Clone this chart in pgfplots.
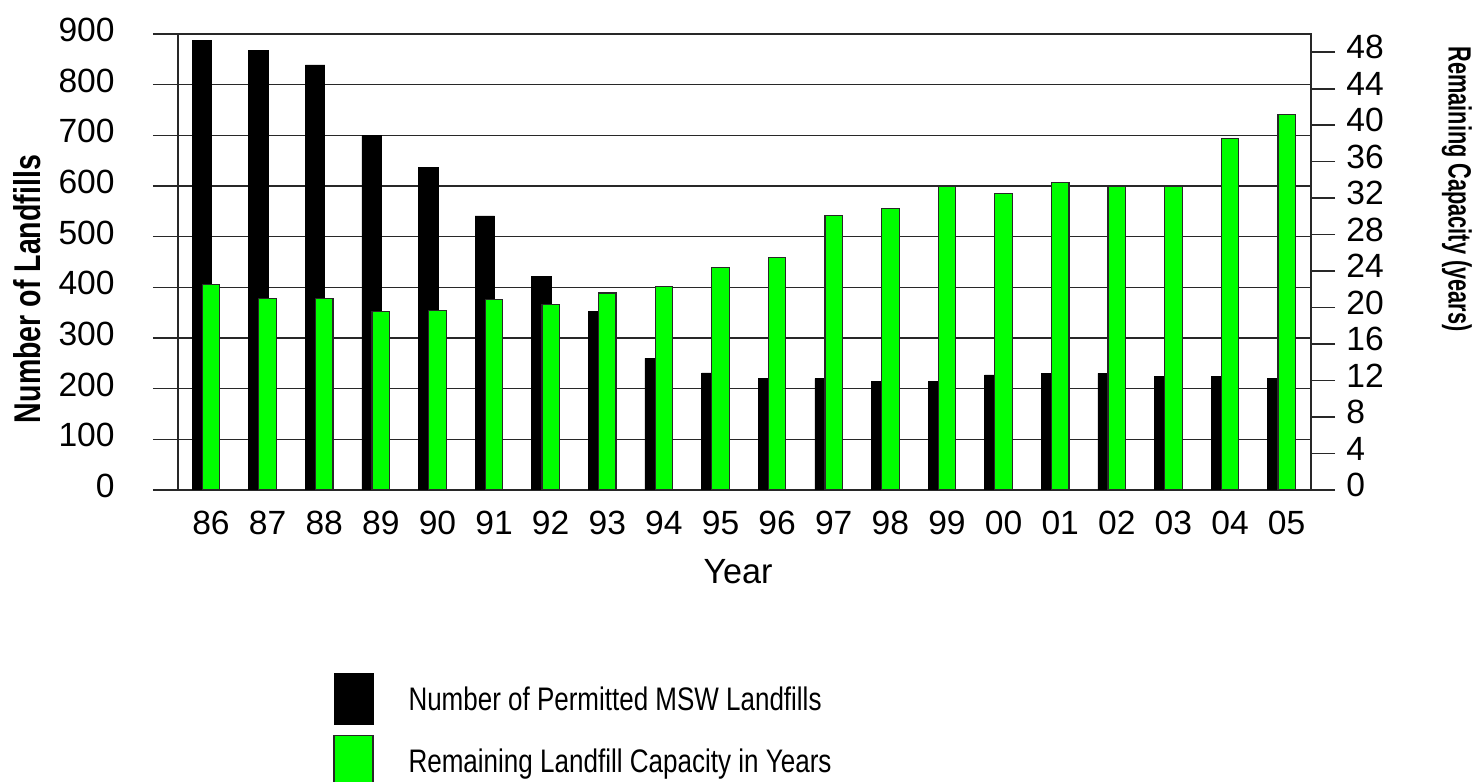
\documentclass[border=0pt]{standalone}
\usepackage{pgfplots}
\pgfplotsset{compat=1.18}
\usepackage{fontspec}
\setmainfont{Liberation Sans}
\setsansfont{Liberation Sans}
\usepackage{graphicx}
\definecolor{bargreen}{RGB}{0,255,0}
\definecolor{gridc}{RGB}{40,40,40}
\pgfplotstableread{
x black green
0 888 22.5
1 868 21.0
2 839 21.0
3 700 19.6
4 637 19.7
5 541 20.85
6 422 20.3
7 353 21.6
8 260 22.3
9 231 24.4
10 220 25.45
11 220 30.1
12 214 30.9
13 214 33.3
14 227 32.5
15 230 33.7
16 230 33.3
17 224 33.3
18 224 38.5
19 220 41.2
}\landfills
\begin{document}
\begin{tikzpicture}
\useasboundingbox (0,0) rectangle (737pt,391pt);
\pgfplotsset{
  common/.style={
    at={(89pt,146pt)}, anchor=south west,
    scale only axis, width=566.5pt, height=228pt,
    xmin=-0.583, xmax=19.43,
    /pgf/number format/assume math mode=true,
    tick align=outside,
    ticklabel style={font=\fontsize{16.8}{18}\selectfont},
  }
}
\begin{axis}[
  common,
  ymin=0, ymax=900,
  ytick={0,100,...,900},
  xtick={0,...,19},
  xticklabels={86,87,88,89,90,91,92,93,94,95,96,97,98,99,00,01,02,03,04,05},
  ymajorgrids,
  major grid style={gridc, line width=0.8pt},
  axis line style={gridc, line width=0.8pt},
  ytick pos=left,
  xtick pos=bottom,
  major tick length=12.5pt,
  ytick style={gridc, line width=0.8pt},
  xtick style={draw=none},
  yticklabel style={inner sep=0pt, anchor=east, xshift=-19pt, yshift=2pt},
  xticklabel style={inner sep=0pt, anchor=north, yshift=2.2pt},
  xlabel={\fontsize{17.5}{18}\selectfont\resizebox{34.5pt}{\height}{Year}},
  every axis x label/.style={at={(axis description cs:0.4943,-0.1798)}, anchor=center},
  ylabel={\resizebox{134pt}{13.5pt}{\bfseries Number of Landfills}},
  every axis y label/.style={at={(axis description cs:-0.1328,0.4408)}, anchor=center, rotate=90},
]
\addplot[ybar, fill=black, draw=black, line width=0.3pt, bar width=9.75pt, bar shift=-4.6pt] table[x=x, y=black] {\landfills};
\end{axis}
\begin{axis}[
  common,
  ymin=0, ymax=50,
  ytick={0,4,...,48},
  axis x line=none,
  axis y line*=right,
  axis line style={gridc, line width=0.8pt},
  major tick length=12pt,
  ytick style={gridc, line width=0.8pt},
  yticklabel style={inner sep=0pt, anchor=west, xshift=5.5pt, yshift=2.5pt},
  ylabel={\resizebox{142.5pt}{11.65pt}{\bfseries Remaining Capacity (years)}},
  every axis y label/.style={at={(axis description cs:1.1288,0.660)}, anchor=center, rotate=-90},
  legend style={at={(axis description cs:0.1371,-0.4007)}, anchor=north west,
    draw=none, fill=none, inner sep=0pt, outer sep=0pt, row sep=5pt, column sep=17.5pt,
    nodes={inner sep=0pt, text depth=0pt}, font=\fontsize{16.3}{18}\selectfont},
  legend cell align=left,
]
\addlegendimage{legend image code/.code={\fill[black] (0pt,-12.75pt) rectangle (19.5pt,12.75pt);}}
\addlegendentry{\resizebox{206.5pt}{\height}{Number of Permitted MSW Landfills}}
\addlegendimage{legend image code/.code={\filldraw[fill=bargreen, draw=gridc, line width=0.6pt] (0pt,-12.75pt) rectangle (19.5pt,12.75pt);}}
\addlegendentry{\resizebox{211.5pt}{\height}{Remaining Landfill Capacity in Years}}
\addplot[ybar, forget plot, fill=bargreen, draw=gridc, line width=0.6pt, bar width=8.75pt, bar shift=0pt] table[x=x, y=green] {\landfills};
\end{axis}
\end{tikzpicture}
\end{document}
